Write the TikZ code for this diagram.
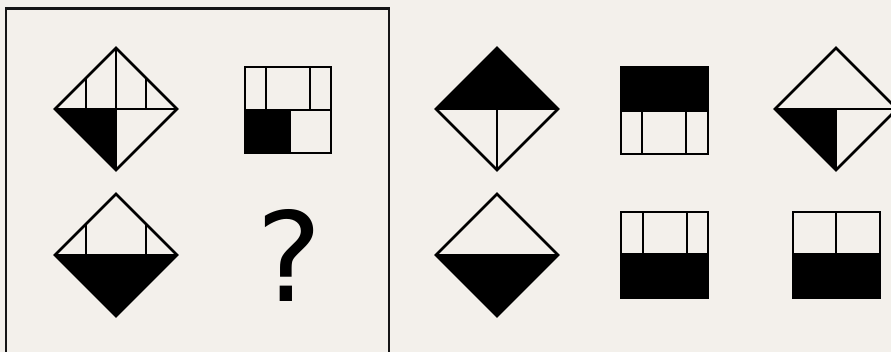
\documentclass[tikz,border=0pt]{standalone}
\usepackage{fontspec}
\newfontfamily\qfont{DejaVu Sans}
\definecolor{bg}{HTML}{F3F0EB}
\definecolor{framec}{HTML}{151515}
\begin{document}
\begin{tikzpicture}[x=1pt,y=-1pt,
  shape line/.style={line width=2.7pt,black},
  blackfill/.style={fill=black}]
\useasboundingbox (0,0) rectangle (891,352);
\fill[bg] (0,0) rectangle (891,352);
\clip (0,0) rectangle (891,352);
% frame
\draw[line width=2.6pt,framec] (6,8.7) rectangle (389,370);
% ---- diamond 1 (top-left)
\begin{scope}[shift={(116,109)}]
  \fill[blackfill] (-61,0) -- (0,0) -- (0,61) -- cycle;
  \draw[shape line] (0,-61) -- (61,0) -- (0,61) -- (-61,0) -- cycle;
  \draw[shape line] (-61,0) -- (61,0);
  \draw[shape line] (0,-61) -- (0,61);
  \draw[shape line] (-30,-31) -- (-30,0);
  \draw[shape line] (30,-31) -- (30,0);
\end{scope}
% ---- square 1
\begin{scope}[shift={(245,67)}]
  \fill[blackfill] (0,43) rectangle (45,86);
  \draw[shape line] (0,0) rectangle (86,86);
  \draw[shape line] (0,43) -- (86,43);
  \draw[shape line] (21,0) -- (21,43);
  \draw[shape line] (65,0) -- (65,43);
  \draw[shape line] (45,43) -- (45,86);
\end{scope}
% ---- diamond 2 (bottom-left)
\begin{scope}[shift={(116,255)}]
  \fill[blackfill] (-61,0) -- (61,0) -- (0,61) -- cycle;
  \draw[shape line] (0,-61) -- (61,0) -- (0,61) -- (-61,0) -- cycle;
  \draw[shape line] (-61,0) -- (61,0);
  \draw[shape line] (-30,-31) -- (-30,0);
  \draw[shape line] (30,-31) -- (30,0);
\end{scope}
% question mark
\node[anchor=base,inner sep=0pt,font=\qfont\fontsize{124}{124}\selectfont] (q) at (289,302) {?};
% ---- option A
\begin{scope}[shift={(497,109)}]
  \fill[blackfill] (-61,0) -- (0,-61) -- (61,0) -- cycle;
  \draw[shape line] (0,-61) -- (61,0) -- (0,61) -- (-61,0) -- cycle;
  \draw[shape line] (-61,0) -- (61,0);
  \draw[shape line] (0,0) -- (0,61);
\end{scope}
% ---- option B
\begin{scope}[shift={(621,67)}]
  \fill[blackfill] (0,0) rectangle (87,44);
  \draw[shape line] (0,0) rectangle (87,87);
  \draw[shape line] (0,44) -- (87,44);
  \draw[shape line] (21,44) -- (21,87);
  \draw[shape line] (65,44) -- (65,87);
\end{scope}
% ---- option C
\begin{scope}[shift={(836,109)}]
  \fill[blackfill] (-61,0) -- (0,0) -- (0,61) -- cycle;
  \draw[shape line] (0,-61) -- (61,0) -- (0,61) -- (-61,0) -- cycle;
  \draw[shape line] (-61,0) -- (61,0);
  \draw[shape line] (0,0) -- (0,61);
\end{scope}
% ---- option D
\begin{scope}[shift={(497,255)}]
  \fill[blackfill] (-61,0) -- (61,0) -- (0,61) -- cycle;
  \draw[shape line] (0,-61) -- (61,0) -- (0,61) -- (-61,0) -- cycle;
  \draw[shape line] (-61,0) -- (61,0);
\end{scope}
% ---- option E
\begin{scope}[shift={(621,212)}]
  \fill[blackfill] (0,42) rectangle (87,86);
  \draw[shape line] (0,0) rectangle (87,86);
  \draw[shape line] (0,42) -- (87,42);
  \draw[shape line] (22,0) -- (22,42);
  \draw[shape line] (66,0) -- (66,42);
\end{scope}
% ---- option F
\begin{scope}[shift={(793,212)}]
  \fill[blackfill] (0,42) rectangle (87,86);
  \draw[shape line] (0,0) rectangle (87,86);
  \draw[shape line] (0,42) -- (87,42);
  \draw[shape line] (43,0) -- (43,42);
\end{scope}
\end{tikzpicture}
\end{document}
